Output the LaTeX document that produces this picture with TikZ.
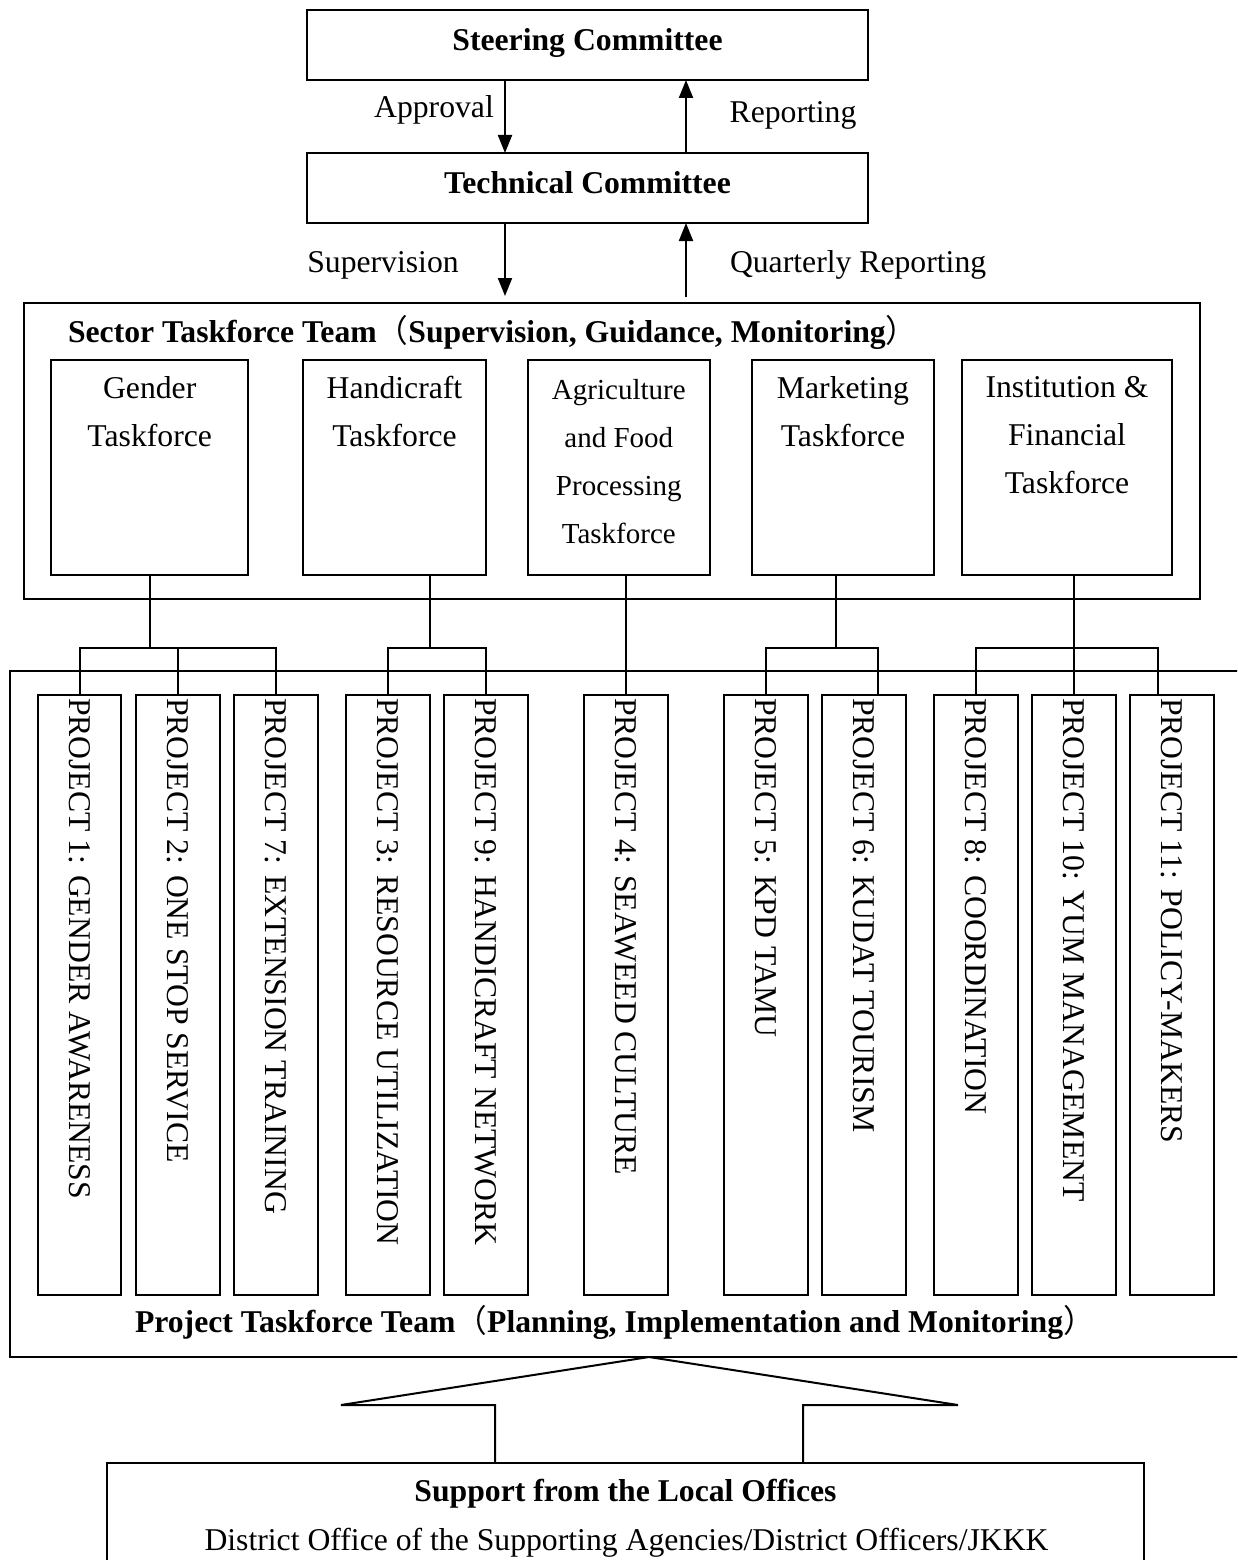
\documentclass[tikz,border=0pt]{standalone}
\usepackage{fontspec}
\setmainfont{Liberation Serif}
\newfontfamily\cjkparen{Noto Sans CJK SC}
\usetikzlibrary{arrows.meta,calc}
% full-width parentheses, kept light even inside bold titles
\newcommand{\fwopen}{{\cjkparen\mdseries （}}
\newcommand{\fwclose}{{\cjkparen\mdseries ）}}

\begin{document}
\begin{tikzpicture}[x=1pt,y=-1pt,
  every node/.style={inner sep=0pt, outer sep=0pt},
  box/.style={draw, line width=2pt, rectangle},
  big/.style={font=\fontsize{31.7}{48}\selectfont},
  bigb/.style={font=\fontsize{31.7}{48}\selectfont\bfseries},
  small/.style={font=\fontsize{29}{48}\selectfont},
  cmte/.style={box, minimum width=561pt, minimum height=70pt,
    font=\fontsize{31.7}{38}\selectfont\bfseries, text height=22pt, text depth=11pt},
  sbox/.style={box, minimum height=215.3pt},
  stext/.style={align=center, anchor=north},
  pbox/.style={box, minimum width=83.8pt, minimum height=600pt},
  ptext/.style={big, rotate=-90, anchor=base west},
  arr/.style={line width=2pt, -{Triangle[length=18pt,width=14pt]}},
  conn/.style={line width=2pt},
]
\useasboundingbox (0,0) rectangle (1237,1560);
\fill[white] (0,0) rectangle (1237,1560);
\clip (0,0) rectangle (1237,1560);

% committees
\node[cmte] (steer) at (587.5,45) {Steering Committee};
\node[cmte] (tech) at (587.5,188) {Technical Committee};

\coordinate (ax) at (505,0);
\coordinate (rx) at (686,0);
\draw[arr] (steer.south -| ax) -- (tech.north -| ax);
\draw[arr] (tech.north -| rx) -- (steer.south -| rx);
\node[big] (lapproval) at (434,110) {Approval};
\node[big] (lreporting) at (793,115) {Reporting};

% sector taskforce team
\node[box, minimum width=1176pt, minimum height=296pt] (sector) at (612,451) {};
\node[bigb, anchor=base west] (sectortitle) at (68,342)
  {Sector Taskforce Team\fwopen Supervision, Guidance, Monitoring\fwclose};

\draw[arr] (tech.south -| ax) -- ($(sector.north -| ax)+(0,-7)$);
\draw[arr] ($(sector.north -| rx)+(0,-6)$) -- (tech.south -| rx);
\node[big] (lsupervision) at (383,265) {Supervision};
\node[big, anchor=west] (lquarterly) at (730,265) {Quarterly Reporting};

\node[sbox, minimum width=196.6pt] (gender) at (149.7,467.3) {};
\node[sbox, minimum width=183pt] (hand) at (394.5,467.3) {};
\node[sbox, minimum width=182.5pt] (agri) at (618.8,467.3) {};
\node[sbox, minimum width=182pt] (mkt) at (843,467.3) {};
\node[sbox, minimum width=210pt] (inst) at (1067,467.3) {};

\node[big, stext] (tgender) at ([yshift=-17pt]gender.north) {Gender\\Taskforce};
\node[big, stext] (thand) at ([yshift=-17pt]hand.north) {Handicraft\\Taskforce};
\node[small, stext] (tagri) at ([yshift=-20pt]agri.north) {Agriculture\\and Food\\Processing\\Taskforce};
\node[big, stext] (tmkt) at ([yshift=-17pt]mkt.north) {Marketing\\Taskforce};
\node[big, stext] (tinst) at ([yshift=-17pt]inst.north) {Institution \&\\Financial\\Taskforce};

% project taskforce team (frame open to the right)
\coordinate (fr1) at (1250,671);
\coordinate (fr2) at (9.5,671);
\coordinate (fr3) at (9.5,1357);
\coordinate (fr4) at (1250,1357);
\draw[conn] (fr1) -- (fr2) -- (fr3) -- (fr4);

\foreach \n/\cx/\t in {
  p1/79.5/{PROJECT 1: GENDER AWARENESS},
  p2/177.6/{PROJECT 2: ONE STOP SERVICE},
  p7/275.8/{PROJECT 7: EXTENSION TRAINING},
  p3/387.9/{PROJECT 3: RESOURCE UTILIZATION},
  p9/485.7/{PROJECT 9: HANDICRAFT NETWORK},
  p4/626/{PROJECT 4: SEAWEED CULTURE},
  p5/765.9/{PROJECT 5: KPD TAMU},
  p6/864/{PROJECT 6: KUDAT TOURISM},
  p8/976/{PROJECT 8: COORDINATION},
  p10/1074/{PROJECT 10: YUM MANAGEMENT},
  p11/1172/{PROJECT 11: POLICY-MAKERS}}{
  \node[pbox] (\n) at (\cx,995) {};
  \node[ptext] (\n t) at ($(\n.north)+(-10.5,3)$) {\t};
}

\node[bigb, anchor=base west] (projtitle) at (135,1332)
  {Project Taskforce Team\fwopen Planning, Implementation and Monitoring\fwclose};

% connectors from sector taskforces to projects
\coordinate (bus) at (0,648);
\draw[conn] (gender.south) -- (gender.south |- bus);
\draw[conn] (p1.north) |- (p7.north |- bus) -- (p7.north);
\draw[conn] (p2.north) -- (p2.north |- bus);

\coordinate (hj) at (430,648);
\draw[conn] (hj |- hand.south) -- (hj);
\draw[conn] (p3.north) |- (hj) -| (p9.north);

\draw[conn] (agri.south -| p4.north) -- (p4.north);

\coordinate (mj) at (836,648);
\draw[conn] (mj |- mkt.south) -- (mj);
\draw[conn] (p5.north) |- (mj) -| ($(p6.north)+(14,0)$);

\coordinate (ij) at (1074,648);
\draw[conn] (ij |- inst.south) -- (p10.north);
\draw[conn] (p8.north) |- (ij) -| ($(p11.north)+(-14,0)$);

% support from the local offices
\node[box, minimum width=1037pt, minimum height=160pt, anchor=north] (local) at (625.5,1463) {};
\node[bigb] (tlocal) at (625.5,1494) {Support from the Local Offices};
\node[big] (tdistrict) at (626.5,1543) {District Office of the Supporting Agencies/District Officers/JKKK};

% hollow block arrow up to the project team
\coordinate (tip) at (649,1357);
\draw[conn, line join=miter] (local.north -| 495,0) -- (495,1405) -- (341,1405) -- (tip)
  -- (958,1405) -- (803,1405) -- (local.north -| 803,0);
\end{tikzpicture}
\end{document}
